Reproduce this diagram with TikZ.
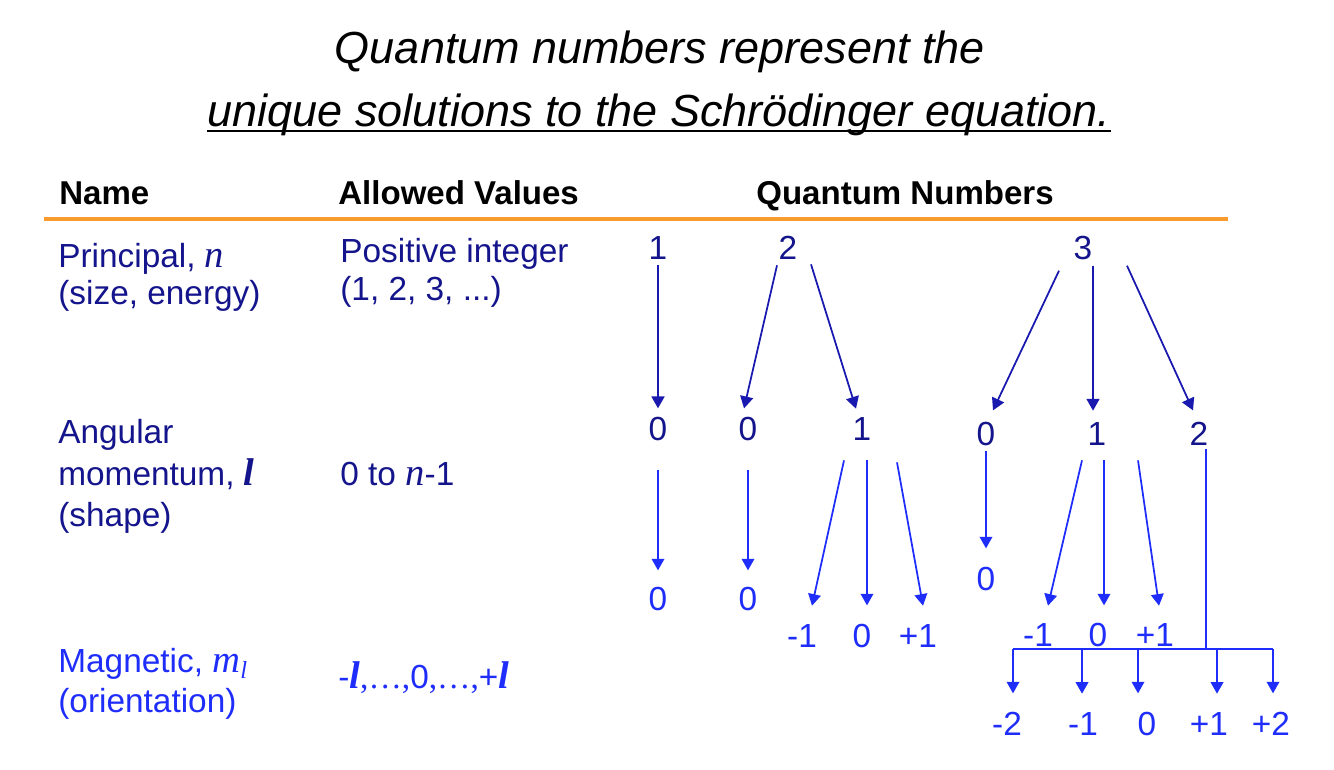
\documentclass[tikz,border=0pt]{standalone}
\usepackage{fontspec}
\setmainfont{Liberation Sans}
\newfontfamily\tnr{Liberation Serif}
\usetikzlibrary{arrows.meta,calc}

\definecolor{navytxt}{RGB}{20,20,140}
\definecolor{bluetxt}{RGB}{30,45,250}
\definecolor{arrdark}{RGB}{25,25,175}
\definecolor{rulecol}{RGB}{250,155,45}

\begin{document}
\begin{tikzpicture}[x=0.02cm, y=-0.02cm, line join=round,
		title/.style={anchor=base, inner sep=0pt, font=\fontsize{25.6}{30}\selectfont\itshape},
		head/.style={anchor=base west, inner sep=0pt, font=\fontsize{18.8}{22}\selectfont\bfseries},
		rowtxt/.style={anchor=base west, inner sep=0pt, font=\fontsize{19}{22}\selectfont},
		qnum/.style={anchor=base, inner sep=0pt, font=\fontsize{19}{22}\selectfont},
		nlarrow/.style={draw=arrdark, line width=1pt, -{Triangle[length=6.8pt,width=7.4pt]}},
		lmarrow/.style={draw=bluetxt, line width=1pt, -{Triangle[length=6.6pt,width=7.2pt]}},
		lmline/.style={draw=bluetxt, line width=1pt}]
			\useasboundingbox (0,0) rectangle (1334,769);
			
			% Title, second line underlined
			\node[title] (t1) at (660,63) {Quantum numbers represent the};
			\node[title] (t2) at (659,126) {unique solutions to the Schrödinger equation.};
			\draw[line width=1.1pt] ($(t2.base west)+(0,5)$) -- ($(t2.base east)+(0,5)$);
			
			% Column heads and orange rule
			\node[head] (hname) at (59,204) {Name};
			\node[head] (hval) at (338,204) {Allowed Values};
			\node[head, anchor=base] (hqn) at (905,204) {Quantum Numbers};
			\draw[rulecol, line width=2.3pt] (44,219) -- (1228,219);
			
			% Left columns: names and allowed values
			\node[rowtxt, text=navytxt] (pn1) at (58,267) {Principal, {\tnr\itshape\fontsize{22}{22}\selectfont n}};
			\node[rowtxt, text=navytxt] (pn2) at (58,304) {(size, energy)};
			\node[rowtxt, text=navytxt] (pv1) at (340,262) {Positive integer};
			\node[rowtxt, text=navytxt] (pv2) at (340,300) {(1, 2, 3, ...)};
			\node[rowtxt, text=navytxt] (an1) at (58,443) {Angular};
			\node[rowtxt, text=navytxt] (an2) at (58,485) {momentum, {\tnr\bfseries\itshape\fontsize{22}{22}\selectfont l}};
			\node[rowtxt, text=navytxt] (an3) at (58,526) {(shape)};
			\node[rowtxt, text=navytxt] (av) at (340,485) {0 to {\tnr\itshape\fontsize{22}{22}\selectfont n}-1};
			\node[rowtxt, text=bluetxt] (mn1) at (58,672) {Magnetic, {\tnr\itshape\fontsize{22}{22}\selectfont m\raisebox{-0.35ex}{\fontsize{14}{14}\selectfont l}}};
			\node[rowtxt, text=bluetxt] (mn2) at (58,712) {(orientation)};
			\node[rowtxt, text=bluetxt] (mv) at (338,688) {-{\tnr\bfseries\itshape\fontsize{22}{22}\selectfont l}{\tnr,…,}0{\tnr,…,}+{\tnr\bfseries\itshape\fontsize{22}{22}\selectfont l}};
			
			% Principal quantum numbers
			\node[qnum, text=navytxt] (n1) at (658,259) {1};
			\node[qnum, text=navytxt] (n2) at (788,259) {2};
			\node[qnum, text=navytxt] (n3) at (1083,259) {3};
			
			% Angular momentum quantum numbers
			\node[qnum, text=navytxt] (l1) at (658,440) {0};
			\node[qnum, text=navytxt] (l2) at (748,440) {0};
			\node[qnum, text=navytxt] (l3) at (862,440) {1};
			\node[qnum, text=navytxt] (l4) at (986,445) {0};
			\node[qnum, text=navytxt] (l5) at (1097,445) {1};
			\node[qnum, text=navytxt] (l6) at (1199,445) {2};
			
			% Magnetic quantum numbers
			\node[qnum, text=bluetxt] (m1) at (658,610) {0};
			\node[qnum, text=bluetxt] (m2) at (748,610) {0};
			\node[qnum, text=bluetxt] (m3) at (802,647) {-1};
			\node[qnum, text=bluetxt] (m4) at (862,647) {0};
			\node[qnum, text=bluetxt] (m5) at (918,647) {+1};
			\node[qnum, text=bluetxt] (m6) at (986,590) {0};
			\node[qnum, text=bluetxt] (m7) at (1038,646) {-1};
			\node[qnum, text=bluetxt] (m8) at (1098,646) {0};
			\node[qnum, text=bluetxt] (m9) at (1155,646) {+1};
			\node[qnum, text=bluetxt] (b1) at (1007,735) {-2};
			\node[qnum, text=bluetxt] (b2) at (1083,735) {-1};
			\node[qnum, text=bluetxt] (b3) at (1147,735) {0};
			\node[qnum, text=bluetxt] (b4) at (1209,735) {+1};
			\node[qnum, text=bluetxt] (b5) at (1271,735) {+2};
			
			% n -> l arrows
			\draw[nlarrow] ($(n1.south)+(0,6)$) -- ($(l1.north)+(0,-8)$);
			\draw[nlarrow] ($(n2.south)+(-11,6)$) -- ($(l2.north)+(-4,-8)$);
			\draw[nlarrow] ($(n2.south)+(23,5)$) -- ($(l3.north)+(-6,-8)$);
			\draw[nlarrow] ($(n3.south)+(-24,11)$) -- ($(l4.north)+(7,-11)$);
			\draw[nlarrow] ($(n3.south)+(10,6)$) -- ($(l5.north)+(-4,-11)$);
			\draw[nlarrow] ($(n3.south)+(44,6)$) -- ($(l6.north)+(-6,-11)$);
			
			% l -> m arrows
			\draw[lmarrow] ($(l1.south)+(0,29)$) -- ($(m1.north)+(0,-16)$);
			\draw[lmarrow] ($(l2.south)+(0,29)$) -- ($(m2.north)+(0,-16)$);
			\draw[lmarrow] ($(l3.south)+(-18,20)$) -- ($(m3.north)+(10,-18)$);
			\draw[lmarrow] ($(l3.south)+(5,20)$) -- ($(m4.north)+(5,-18)$);
			\draw[lmarrow] ($(l3.south)+(35,22)$) -- ($(m5.north)+(5,-18)$);
			\draw[lmarrow] ($(l4.south)+(0,5)$) -- ($(m6.north)+(0,-18)$);
			\draw[lmarrow] ($(l5.south)+(-15,15)$) -- ($(m7.north)+(10,-17)$);
			\draw[lmarrow] ($(l5.south)+(7,15)$) -- ($(m8.north)+(6,-17)$);
			\draw[lmarrow] ($(l5.south)+(41,15)$) -- ($(m9.north)+(4,-17)$);
			
			% l = 2 branches through a bar
			\coordinate (bar) at ($(l6.south)+(7,204)$);
			\draw[lmline] ($(l6.south)+(7,4)$) -- (bar);
			\draw[lmline] ($(b1.north)+(6,-62)$) -- ($(b5.north)+(2,-62)$);
			\draw[lmarrow] ($(b1.north)+(6,-62)$) -- ($(b1.north)+(6,-18)$);
			\draw[lmarrow] ($(b2.north)+(-1,-62)$) -- ($(b2.north)+(-1,-18)$);
			\draw[lmarrow] ($(b3.north)+(-9,-62)$) -- ($(b3.north)+(-9,-18)$);
			\draw[lmarrow] ($(b4.north)+(8,-62)$) -- ($(b4.north)+(8,-18)$);
			\draw[lmarrow] ($(b5.north)+(2,-62)$) -- ($(b5.north)+(2,-18)$);
			
		\end{tikzpicture}
\end{document}
